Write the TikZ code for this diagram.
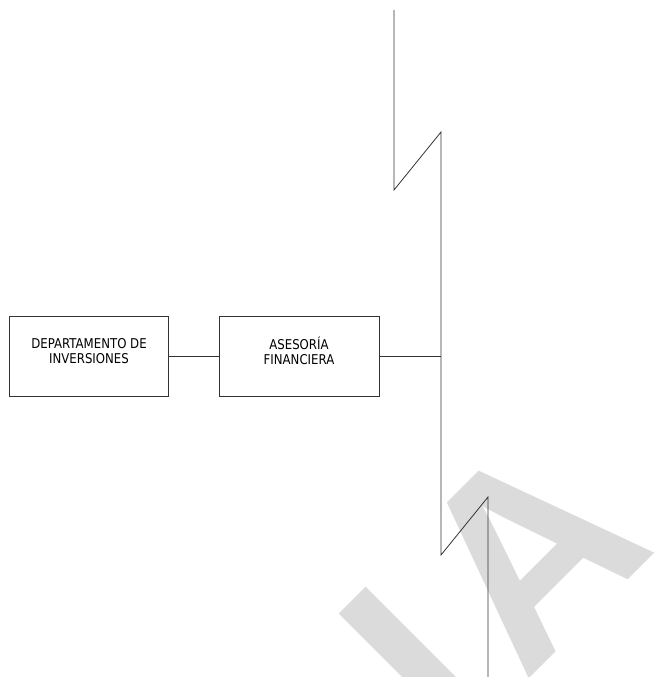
\documentclass[tikz,border=0pt]{standalone}
\usepackage{fontspec}
\setmainfont{DejaVu Sans}[FakeStretch=0.87]
\newfontfamily\wmfont{Liberation Sans}
\usepackage{tikz}
\tikzset{
  unit/.style={draw=black!80, line width=0.8pt, minimum width=159pt, minimum height=80pt, inner sep=0pt},
  unittext/.style={align=center, font=\fontsize{13.5}{15}\selectfont, inner sep=0pt},
  wmark/.style={text=black!14, font=\wmfont\bfseries\fontsize{265}{265}\selectfont, rotate=45, inner sep=0pt},
  link/.style={draw=black!80, line width=0.8pt}
}

\begin{document}
\begin{tikzpicture}[x=1pt,y=-1pt]
\useasboundingbox (0,0) rectangle (659,677);
\begin{scope}
\clip (0,0) rectangle (659,677);
\node[wmark] (wmi) at (417,665) {I};
\node[wmark] (wma) at (528,551) {A};
\end{scope}
\node[unit] (inv) at (88.5,356) {};
\node[unittext] (invtxt) at (89,351.5) {DEPARTAMENTO DE\\INVERSIONES};
\node[unit, minimum width=160pt] (ase) at (299,356) {};
\node[unittext] (asetxt) at (299,350.5) {ASESORÍA\\FINANCIERA};
\coordinate (tee) at (441,356);
\coordinate (upend) at (394,10);
\coordinate (upbrk) at (394,190);
\coordinate (upjoin) at (441,132);
\coordinate (dnbrk) at (441,555);
\coordinate (dnjoin) at (488,497);
\coordinate (dnend) at (488,677);
\draw[link] (inv) -- (ase);
\draw[link] (ase) -- (tee);
\draw[link] (upend) -- (upbrk) -- (upjoin) -- (dnbrk) -- (dnjoin) -- (dnend);
\end{tikzpicture}
\end{document}
